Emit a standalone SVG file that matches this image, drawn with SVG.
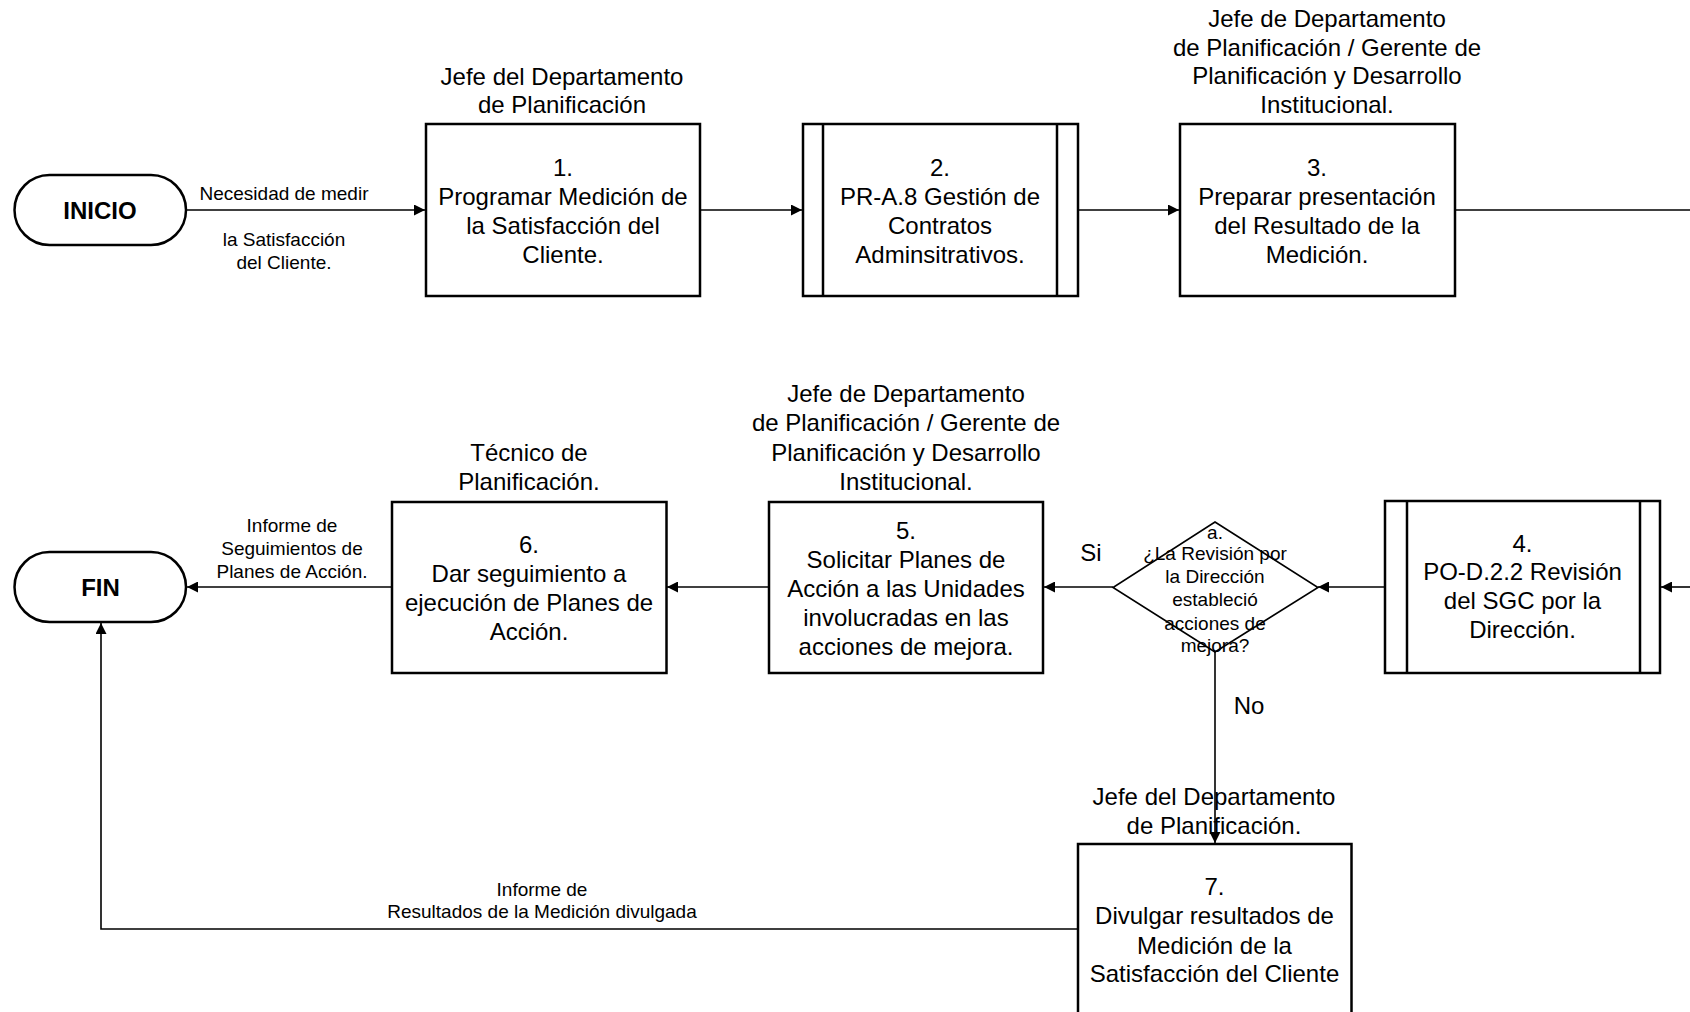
<svg xmlns="http://www.w3.org/2000/svg" width="1690" height="1012" viewBox="0 0 1690 1012">
<defs>
<style>
.box{fill:#fff;stroke:#000;stroke-width:2.5}
.term{fill:#fff;stroke:#000;stroke-width:2.5}
.dia{fill:#fff;stroke:#000;stroke-width:1.6}
.conn{fill:none;stroke:#000;stroke-width:1.6}
text{font-family:"Liberation Sans",Arial,sans-serif;fill:#000;text-anchor:middle}
.t{font-size:24px}
.r{font-size:24px}
.l{font-size:19px}
.d{font-size:19px}
.b{font-size:24px;font-weight:bold}
</style>
<marker id="arr" viewBox="0 0 10 10" refX="10" refY="5" markerWidth="12" markerHeight="11" markerUnits="userSpaceOnUse" orient="auto">
<path d="M0,0 L10,5 L0,10 Z" fill="#000"/>
</marker>
</defs>
<rect width="1690" height="1012" fill="#fff"/>

<g id="connectors">
<path class="conn" d="M186,210 H425" marker-end="url(#arr)"/>
<path class="conn" d="M700,210 H802" marker-end="url(#arr)"/>
<path class="conn" d="M1078,210 H1179" marker-end="url(#arr)"/>
<path class="conn" d="M1455,210 H1690"/>
<path class="conn" d="M1690,587 H1661" marker-end="url(#arr)"/>
<path class="conn" d="M1385,587 H1318" marker-end="url(#arr)"/>
<path class="conn" d="M1113,587 H1044" marker-end="url(#arr)"/>
<path class="conn" d="M769,587 H667" marker-end="url(#arr)"/>
<path class="conn" d="M392,587 H187" marker-end="url(#arr)"/>
<path class="conn" d="M1215,652 V843" marker-end="url(#arr)"/>
<path class="conn" d="M1078,929 H101 V623" marker-end="url(#arr)"/>
<text class="l" x="284" y="200">Necesidad de medir</text>
<text class="l" x="284" y="246">la Satisfacción</text>
<text class="l" x="284" y="269">del Cliente.</text>
<text class="l" x="292" y="532">Informe de</text>
<text class="l" x="292" y="555">Seguimientos de</text>
<text class="l" x="292" y="578">Planes de Acción.</text>
<text class="l" x="542" y="896">Informe de</text>
<text class="l" x="542" y="918">Resultados de la Medición divulgada</text>
<text class="t" x="1091" y="561">Si</text>
<text class="t" x="1249" y="714">No</text>
</g>

<g id="inicio">
<rect class="term" x="14.5" y="175" width="171.5" height="70" rx="35" ry="35"/>
<text class="b" x="100" y="218.5">INICIO</text>
</g>

<g id="fin">
<rect class="term" x="14.5" y="552" width="171.5" height="70" rx="35" ry="35"/>
<text class="b" x="100.5" y="595.5">FIN</text>
</g>

<g id="node1">
<text class="r" x="562" y="84.5">Jefe del Departamento</text>
<text class="r" x="562" y="112.5">de Planificación</text>
<rect class="box" x="426" y="124" width="274" height="172"/>
<text class="t" x="563" y="175.5">1.</text>
<text class="t" x="563" y="204.5">Programar Medición de</text>
<text class="t" x="563" y="233.5">la Satisfacción del</text>
<text class="t" x="563" y="262.5">Cliente.</text>
</g>

<g id="node2">
<rect class="box" x="803" y="124" width="275" height="172"/>
<line class="box" x1="823" y1="124" x2="823" y2="296"/>
<line class="box" x1="1057" y1="124" x2="1057" y2="296"/>
<text class="t" x="940" y="175.5">2.</text>
<text class="t" x="940" y="204.5">PR-A.8 Gestión de</text>
<text class="t" x="940" y="233.5">Contratos</text>
<text class="t" x="940" y="262.5">Adminsitrativos.</text>
</g>

<g id="node3">
<text class="r" x="1327" y="26.5">Jefe de Departamento</text>
<text class="r" x="1327" y="55.5">de Planificación / Gerente de</text>
<text class="r" x="1327" y="84">Planificación y Desarrollo</text>
<text class="r" x="1327" y="112.5">Institucional.</text>
<rect class="box" x="1180" y="124" width="275" height="172"/>
<text class="t" x="1317" y="175.5">3.</text>
<text class="t" x="1317" y="204.5">Preparar presentación</text>
<text class="t" x="1317" y="233.5">del Resultado de la</text>
<text class="t" x="1317" y="262.5">Medición.</text>
</g>

<g id="node4">
<rect class="box" x="1385" y="501" width="275" height="172"/>
<line class="box" x1="1407" y1="501" x2="1407" y2="673"/>
<line class="box" x1="1640" y1="501" x2="1640" y2="673"/>
<text class="t" x="1522.5" y="551.5">4.</text>
<text class="t" x="1522.5" y="580">PO-D.2.2 Revisión</text>
<text class="t" x="1522.5" y="609">del SGC por la</text>
<text class="t" x="1522.5" y="638">Dirección.</text>
</g>

<g id="decisionA">
<polygon class="dia" points="1215,522 1318,587.5 1215,652 1113,587.5"/>
<text class="d" x="1215" y="538.5">a.</text>
<text class="d" x="1215" y="560">¿La Revisión por</text>
<text class="d" x="1215" y="583">la Dirección</text>
<text class="d" x="1215" y="606">estableció</text>
<text class="d" x="1215" y="629.5">acciones de</text>
<text class="d" x="1215" y="652">mejora?</text>
</g>

<g id="node5">
<text class="r" x="906" y="401.5">Jefe de Departamento</text>
<text class="r" x="906" y="431">de Planificación / Gerente de</text>
<text class="r" x="906" y="461">Planificación y Desarrollo</text>
<text class="r" x="906" y="490">Institucional.</text>
<rect class="box" x="769" y="502" width="274" height="171"/>
<text class="t" x="906" y="538.5">5.</text>
<text class="t" x="906" y="567.5">Solicitar Planes de</text>
<text class="t" x="906" y="596.5">Acción a las Unidades</text>
<text class="t" x="906" y="625.5">involucradas en las</text>
<text class="t" x="906" y="654.5">acciones de mejora.</text>
</g>

<g id="node6">
<text class="r" x="529" y="461">Técnico de</text>
<text class="r" x="529" y="489.5">Planificación.</text>
<rect class="box" x="392" y="502" width="274.5" height="171"/>
<text class="t" x="529" y="552.5">6.</text>
<text class="t" x="529" y="581.5">Dar seguimiento a</text>
<text class="t" x="529" y="610.5">ejecución de Planes de</text>
<text class="t" x="529" y="639.5">Acción.</text>
</g>

<g id="node7">
<rect class="box" x="1078" y="844" width="273.5" height="172"/>
<text class="r" x="1214" y="804.5">Jefe del Departamento</text>
<text class="r" x="1214" y="833.5">de Planificación.</text>
<text class="t" x="1214.5" y="895">7.</text>
<text class="t" x="1214.5" y="924">Divulgar resultados de</text>
<text class="t" x="1214.5" y="953.5">Medición de la</text>
<text class="t" x="1214.5" y="982">Satisfacción del Cliente</text>
</g>
</svg>
